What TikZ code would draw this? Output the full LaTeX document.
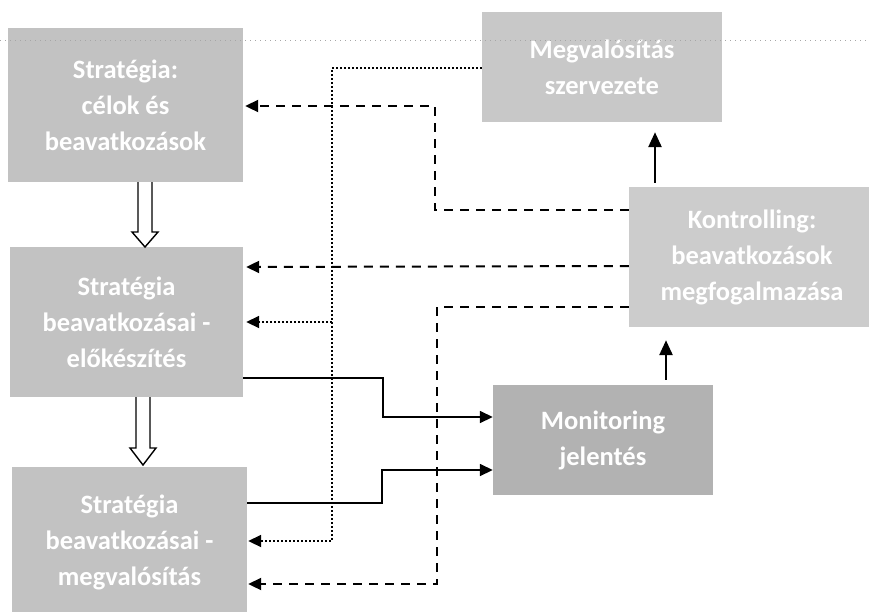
\documentclass[tikz,border=0pt]{standalone}
\usepackage{fontspec}
\setmainfont{Carlito}
\usetikzlibrary{arrows.meta,calc}
\definecolor{boxA}{HTML}{C2C2C2}
\definecolor{boxB}{HTML}{C8C8C8}
\definecolor{boxC}{HTML}{CCCCCC}
\definecolor{boxD}{HTML}{B2B2B2}
\begin{document}
\begin{tikzpicture}[x=1pt,y=-1pt,
  box/.style={fill=#1, draw=none, text=white, font=\bfseries\fontsize{26.5}{36}\selectfont, align=center, inner sep=0pt},
  tip/.style={-{Triangle[length=13pt,width=12pt]}},
  dashedlink/.style={tip, line width=2pt, dash pattern=on 9pt off 7pt},
  dottedlink/.style={tip, line width=1.8pt, dash pattern=on 1.8pt off 2.2pt},
  solidlink/.style={tip, line width=1.6pt},
  uparrow/.style={-{Triangle[length=15pt,width=13pt]}, line width=2.6pt},
  hollowarr/.style={draw=black, line width=1.4pt, fill=white, line join=miter},
  faint/.style={draw=black!35, line width=0.6pt, dash pattern=on 1pt off 4pt}
]
\useasboundingbox (0,0) rectangle (869,611);
\clip (0,0) rectangle (869,611);

% boxes
\node[box=boxA, minimum width=235pt, minimum height=154pt] (b1) at (125.5,105) {Stratégia:\\célok és\\beavatkozások};
\node[box=boxA, minimum width=233pt, minimum height=150pt] (b2) at (126.5,322) {Stratégia\\beavatkozásai -\\előkészítés};
\node[box=boxA, minimum width=235pt, minimum height=150pt] (b3) at (129.5,542) {Stratégia\\beavatkozásai -\\megvalósítás};
\node[box=boxB, minimum width=240pt, minimum height=110pt] (mv) at (602,67) {Megvalósítás\\szervezete};
\node[box=boxC, minimum width=246pt, minimum height=140pt] (ko) at (752,257) {Kontrolling:\\beavatkozások\\megfogalmazása};
\node[box=boxD, minimum width=220pt, minimum height=110pt] (mo) at (603,440) {Monitoring\\jelentés};

% hollow arrows between strategy boxes
\coordinate (h1s) at (145,182); \coordinate (h1e) at (145,247);
\coordinate (h2s) at (143,397); \coordinate (h2e) at (143,465);
\draw[hollowarr] ($(h1s)+(-7,0)$) -- ($(h1e)+(-7,-15)$) -- ($(h1e)+(-13,-15)$) -- (h1e)
  -- ($(h1e)+(13,-15)$) -- ($(h1e)+(7,-15)$) -- ($(h1s)+(7,0)$);
\draw[hollowarr] ($(h2s)+(-7,0)$) -- ($(h2e)+(-7,-17)$) -- ($(h2e)+(-13,-17)$) -- (h2e)
  -- ($(h2e)+(13,-17)$) -- ($(h2e)+(7,-17)$) -- ($(h2s)+(7,0)$);

% dashed feedback from Kontrolling
\draw[dashedlink] (ko.west |- 0,210) -- (435,210) -- (435,106) -- ($(b1.east |- 0,106)+(2,0)$);
\draw[dashedlink] (ko.west |- 0,266) -- ($(b2.east |- 0,267)+(3,0)$);
\draw[dashedlink] (ko.west |- 0,307) -- (437,307) -- (437,584) -- ($(b3.east |- 0,584)+(1,0)$);

% dotted links from Megvalosítás szervezete
\draw[dottedlink] (mv.west |- 0,68) -- (332,68) -- (332,541) -- ($(b3.east |- 0,541)+(1,0)$);
\draw[dottedlink] (332,322) -- ($(b2.east |- 0,322)+(3,0)$);

% solid links to Monitoring
\draw[solidlink] (b2.east |- 0,378) -- (383,378) -- (383,417) -- (mo.west |- 0,417);
\draw[solidlink] (b3.east |- 0,503) -- (382,503) -- (382,470) -- (mo.west |- 0,470);

% up arrows
\draw[uparrow] ($(ko.north -| 655,0)+(0,-4)$) -- ($(mv.south -| 655,0)+(0,10)$);
\draw[uparrow] ($(mo.north -| 666,0)+(0,-5)$) -- ($(ko.south -| 666,0)+(0,13)$);

% faint rule across the top
\draw[faint] (0,40) -- (869,40);
\end{tikzpicture}
\end{document}
